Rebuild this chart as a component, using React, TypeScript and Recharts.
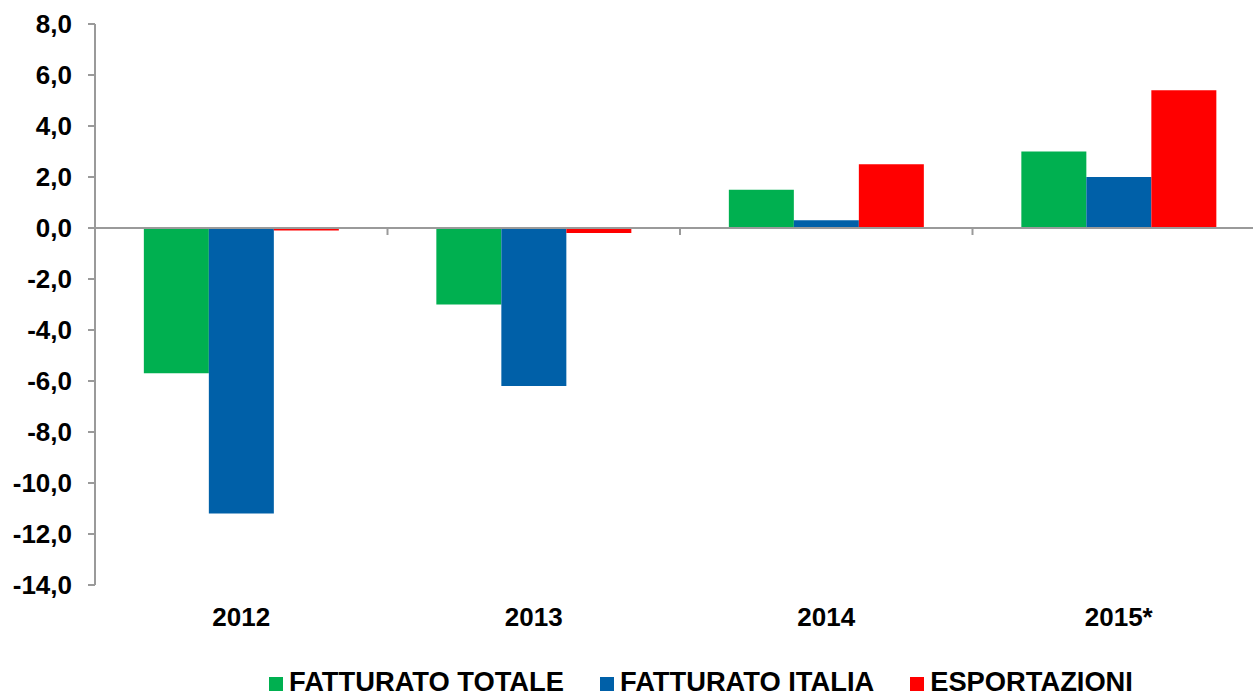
import { BarChart, Bar, XAxis, YAxis, ReferenceLine, Legend } from 'recharts'

const years = ['2012', '2013', '2014', '2015*']
const fatturatoTotale = [-5.7, -3.0, 1.5, 3.0]
const fatturatoItalia = [-11.2, -6.2, 0.3, 2.0]
const esportazioni = [-0.1, -0.2, 2.5, 5.4]
const yTicks = [-14, -12, -10, -8, -6, -4, -2, 0, 2, 4, 6, 8]

const seriesInfo = [
  { key: 'totale', name: 'FATTURATO TOTALE', color: '#00B050' },
  { key: 'italia', name: 'FATTURATO ITALIA', color: '#0060A8' },
  { key: 'export', name: 'ESPORTAZIONI', color: '#FF0000' }
]

const data = years.map((year, i) => ({
  year,
  totale: fatturatoTotale[i],
  italia: fatturatoItalia[i],
  export: esportazioni[i]
}))

const FONT = '"Liberation Sans", Arial, sans-serif'
const AXIS_GRAY = '#9a9a9a'

// zero line with small ticks between categories
function ZeroLine(props: any) {
  const { x1, x2, y1 } = props
  const step = (x2 - x1) / years.length
  const marks = []
  for (let i = 1; i <= years.length; i++) {
    const x = x1 + step * i
    marks.push(<line key={i} x1={x} x2={x} y1={y1} y2={y1 + 7} stroke={AXIS_GRAY} strokeWidth={2} />)
  }
  return (
    <g>
      <line x1={x1} x2={x2} y1={y1} y2={y1} stroke={AXIS_GRAY} strokeWidth={2} />
      {marks}
    </g>
  )
}

function LegendContent() {
  return (
    <div style={{ display: 'flex', alignItems: 'baseline', fontFamily: FONT, fontWeight: 'bold', fontSize: 27.3, color: '#000', whiteSpace: 'nowrap' }}>
      {seriesInfo.map((s) => (
        <span key={s.key} style={{ display: 'flex', alignItems: 'flex-end', marginRight: 36 }}>
          <span style={{ display: 'inline-block', width: 14, height: 14, background: s.color, marginRight: 6, marginBottom: 4 }} />
          <span style={{ lineHeight: '27px' }}>{s.name}</span>
        </span>
      ))}
    </div>
  )
}

export default function App() {
  return (
    <div style={{ position: 'absolute', left: 0, top: 0, width: 1253, height: 697, overflow: 'hidden', background: '#fff' }}>
      <BarChart
        width={1272}
        height={720}
        data={data}
        margin={{ top: 24, right: 7, left: 0, bottom: 0 }}
        barCategoryGap="16.7%"
        barGap={0}
      >
        <XAxis
          dataKey="year"
          axisLine={false}
          tickLine={false}
          tickMargin={17}
          height={135}
          tick={{ fontSize: 26, fontWeight: 'bold', fill: '#000', fontFamily: FONT }}
        />
        <YAxis
          domain={[-14, 8]}
          ticks={yTicks}
          interval={0}
          width={95}
          axisLine={{ stroke: AXIS_GRAY, strokeWidth: 2 }}
          tickLine={{ stroke: AXIS_GRAY, strokeWidth: 2 }}
          tickSize={7}
          tickMargin={16}
          tickFormatter={(v: number) => v.toFixed(1).replace('.', ',')}
          tick={{ fontSize: 26, fontWeight: 'bold', fill: '#000', fontFamily: FONT }}
        />
        {seriesInfo.map((s) => (
          <Bar key={s.key} dataKey={s.key} name={s.name} fill={s.color} isAnimationActive={false} />
        ))}
        <ReferenceLine y={0} shape={ZeroLine} />
        <Legend
          layout="horizontal"
          verticalAlign="middle"
          align="center"
          content={LegendContent}
          wrapperStyle={{ left: 269, top: 668, width: 'auto' }}
        />
      </BarChart>
    </div>
  )
}
